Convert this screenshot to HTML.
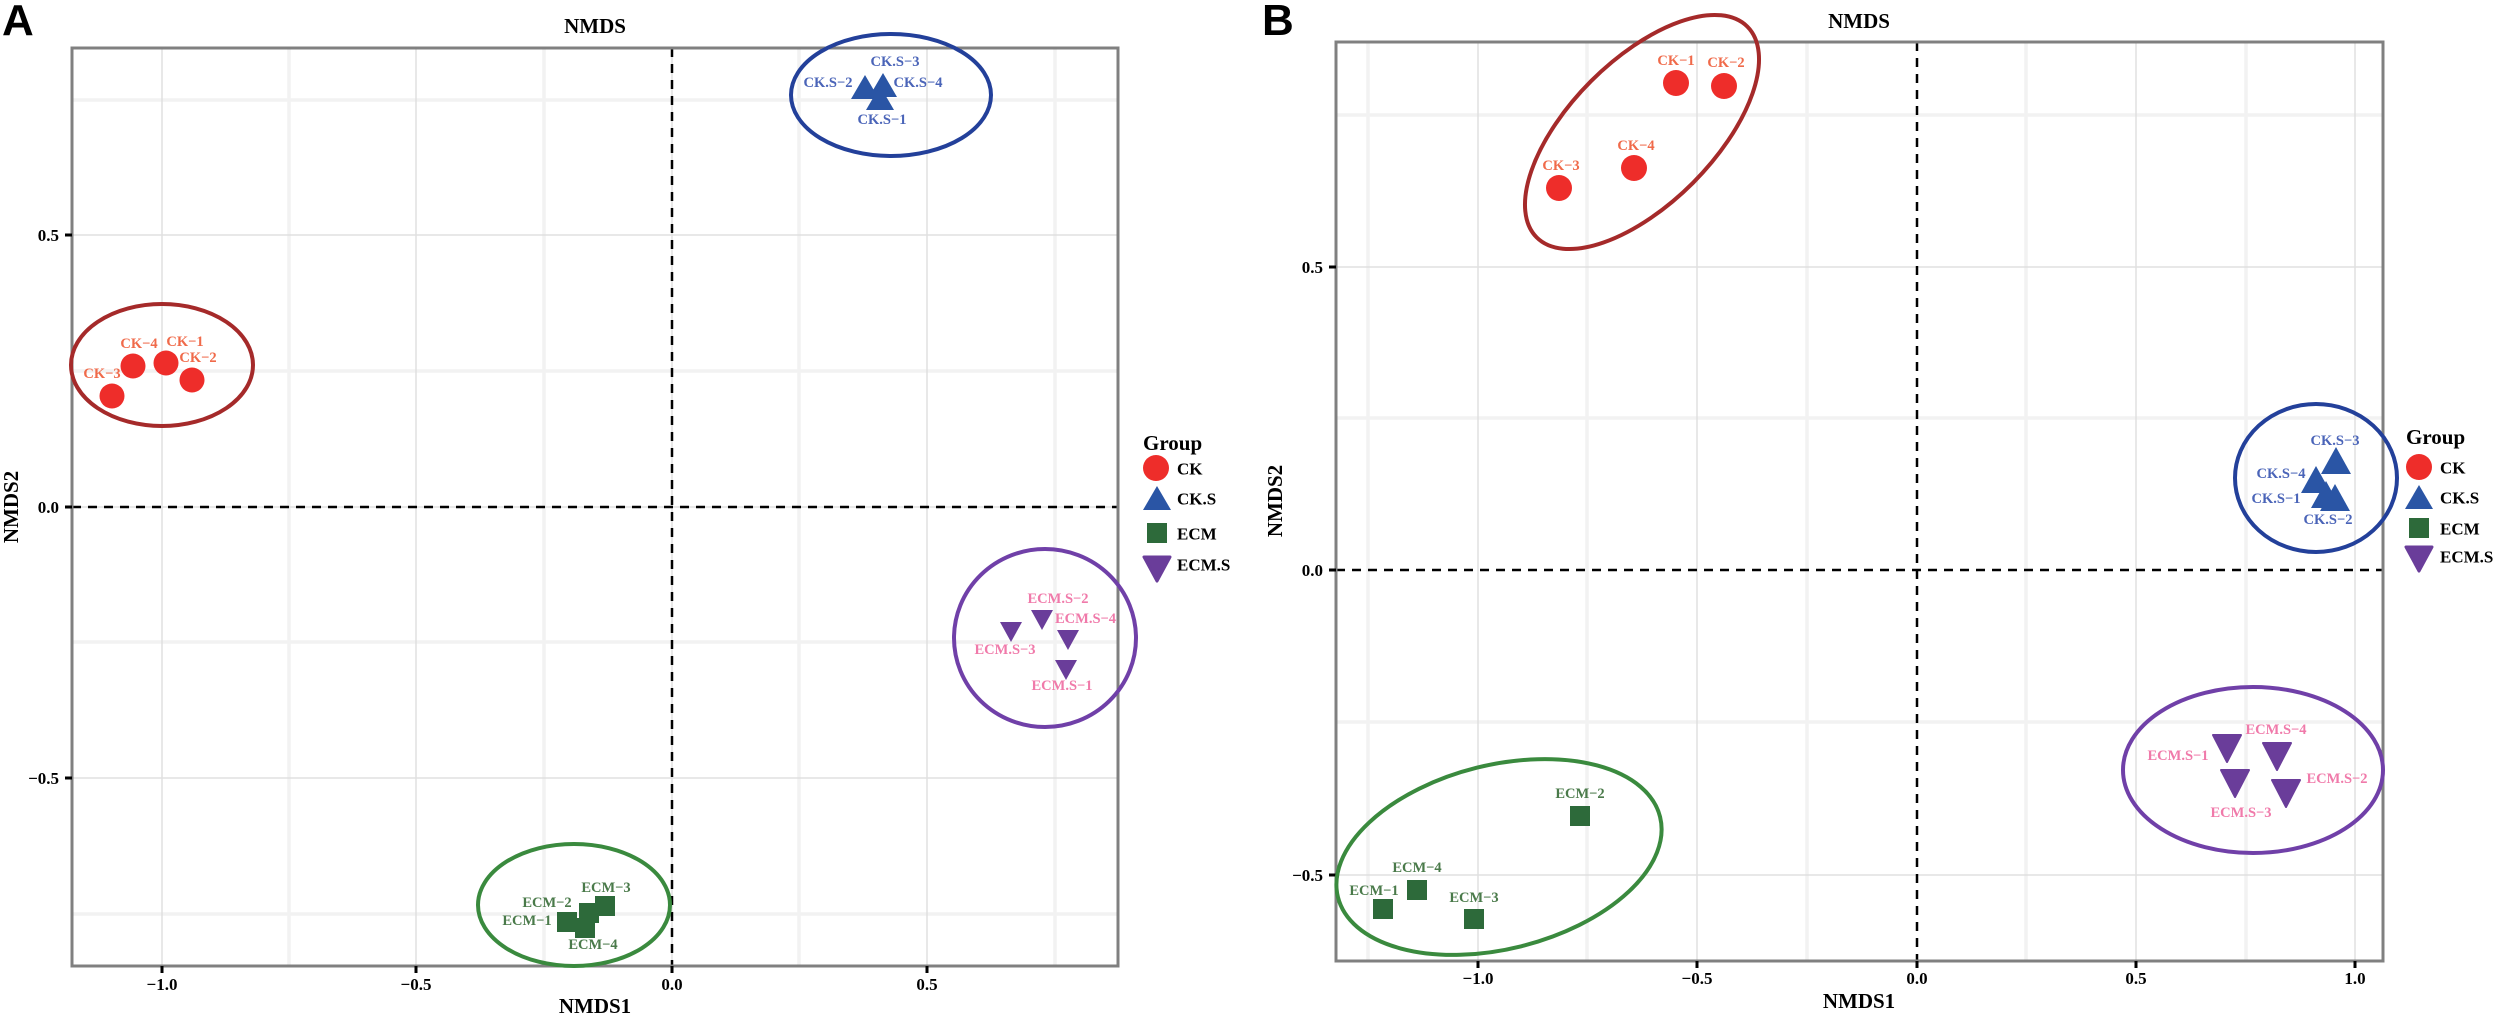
<!DOCTYPE html>
<html><head><meta charset="utf-8"><style>
html,body{margin:0;padding:0;background:#fff;}
svg{display:block;}
text{font-family:"Liberation Serif",serif;font-weight:bold;}
.l{font-size:14.5px;text-anchor:middle;dominant-baseline:central;}
.t{font-size:17px;fill:#000;}
.ax{font-size:21px;fill:#000;text-anchor:middle;}
.lg{font-size:17px;fill:#000;dominant-baseline:central;}
.mj{stroke:#e0e0e0;stroke-width:1.5;}
.mn{stroke:#f2f2f2;stroke-width:3.5;}
.z{stroke:#000;stroke-width:2.5;stroke-dasharray:9 7;}
.fr{fill:none;stroke:#808080;stroke-width:3;}
</style></head><body>
<svg width="2500" height="1017" viewBox="0 0 2500 1017" xmlns="http://www.w3.org/2000/svg">
<rect width="2500" height="1017" fill="#fff"/>

<!-- PANEL A -->
<text x="2" y="35" style="font-family:'Liberation Sans',sans-serif;font-size:44px;font-weight:bold">A</text>
<text x="595" y="33" class="ax">NMDS</text>
<rect x="72" y="48" width="1046" height="918" fill="#fff"/>
<g>
<line class="mn" x1="72" x2="1118" y1="100" y2="100"/>
<line class="mn" x1="72" x2="1118" y1="371" y2="371"/>
<line class="mn" x1="72" x2="1118" y1="642" y2="642"/>
<line class="mn" x1="72" x2="1118" y1="914" y2="914"/>
<line class="mn" y1="48" y2="966" x1="289" x2="289"/>
<line class="mn" y1="48" y2="966" x1="544" x2="544"/>
<line class="mn" y1="48" y2="966" x1="799" x2="799"/>
<line class="mn" y1="48" y2="966" x1="1055" x2="1055"/>
<line class="mj" x1="72" x2="1118" y1="235" y2="235"/>
<line class="mj" x1="72" x2="1118" y1="507" y2="507"/>
<line class="mj" x1="72" x2="1118" y1="778" y2="778"/>
<line class="mj" y1="48" y2="966" x1="162" x2="162"/>
<line class="mj" y1="48" y2="966" x1="416" x2="416"/>
<line class="mj" y1="48" y2="966" x1="672" x2="672"/>
<line class="mj" y1="48" y2="966" x1="927" x2="927"/>
<line class="z" x1="72" x2="1118" y1="507" y2="507"/>
<line class="z" y1="48" y2="966" x1="672" x2="672"/>
</g>
<rect class="fr" x="72" y="48" width="1046" height="918"/>
<g stroke="#000" stroke-width="3">
<line x1="65" x2="72" y1="235" y2="235"/><line x1="65" x2="72" y1="507" y2="507"/><line x1="65" x2="72" y1="778" y2="778"/>
<line y1="966" y2="973" x1="162" x2="162"/><line y1="966" y2="973" x1="416" x2="416"/><line y1="966" y2="973" x1="672" x2="672"/><line y1="966" y2="973" x1="927" x2="927"/>
</g>
<g class="t" text-anchor="end">
<text x="59" y="241">0.5</text><text x="59" y="513">0.0</text><text x="59" y="784">−0.5</text>
</g>
<g class="t" text-anchor="middle">
<text x="162" y="990">−1.0</text><text x="416" y="990">−0.5</text><text x="672" y="990">0.0</text><text x="927" y="990">0.5</text>
</g>
<text x="595" y="1013" class="ax">NMDS1</text>
<text transform="translate(18,507) rotate(-90)" class="ax">NMDS2</text>

<ellipse cx="162" cy="365" rx="91" ry="61" fill="none" stroke="#a52a2a" stroke-width="4"/>
<ellipse cx="891" cy="95" rx="100" ry="61" fill="none" stroke="#23409a" stroke-width="4"/>
<ellipse cx="1045" cy="638" rx="91" ry="89" fill="none" stroke="#7040a8" stroke-width="4"/>
<ellipse cx="574" cy="905" rx="96" ry="61" fill="none" stroke="#3a8a3e" stroke-width="4"/>
<g fill="#ee2d2a">
<circle cx="112" cy="396" r="12.5"/><circle cx="133" cy="366" r="12.5"/><circle cx="166" cy="363" r="12.5"/><circle cx="192" cy="380" r="12.5"/>
</g>
<g fill="#f06a4a" class="l">
<text x="139" y="344">CK−4</text><text x="185" y="342">CK−1</text><text x="198" y="358">CK−2</text><text x="102" y="374">CK−3</text>
</g>
<g fill="#2a55a5">
<polygon points="865,75 851,99 879,99"/><polygon points="883,73 869,97 897,97"/><polygon points="880,86 866,110 894,110"/>
</g>
<g fill="#4a64b8" class="l">
<text x="895" y="62">CK.S−3</text><text x="828" y="83">CK.S−2</text><text x="918" y="83">CK.S−4</text><text x="882" y="120">CK.S−1</text>
</g>
<g fill="#6a3d9a">
<polygon points="1000,622 1022,622 1011,642"/><polygon points="1031,610 1053,610 1042,630"/><polygon points="1057,630 1079,630 1068,650"/><polygon points="1055,660 1077,660 1066,680"/>
</g>
<g fill="#f07aaa" class="l">
<text x="1058" y="599">ECM.S−2</text><text x="1005" y="650">ECM.S−3</text><text x="1062" y="686">ECM.S−1</text>
</g>
<svg x="0" y="0" width="1118" height="1017" overflow="hidden"><text x="1055" y="619" fill="#f07aaa" style="font-size:14.5px;dominant-baseline:central">ECM.S−4</text></svg>
<g fill="#2d6a3a">
<rect x="557" y="912" width="20" height="20"/><rect x="575" y="918" width="20" height="20"/><rect x="579" y="903" width="20" height="20"/><rect x="595" y="896" width="20" height="20"/>
</g>
<g fill="#4a7a4a" class="l">
<text x="606" y="888">ECM−3</text><text x="547" y="903">ECM−2</text><text x="527" y="921">ECM−1</text><text x="593" y="945">ECM−4</text>
</g>
<text x="1143" y="450" style="font-size:21px">Group</text>
<circle cx="1156" cy="468" r="13" fill="#ee2d2a"/>
<polygon points="1157,486 1143,510 1171,510" fill="#2a55a5"/>
<rect x="1147" y="523" width="20" height="20" fill="#2d6a3a"/>
<polygon points="1144,557 1170,557 1157,581" fill="#6a3d9a" stroke="#6a3d9a" stroke-width="3" stroke-linejoin="round"/>
<g class="lg"><text x="1177" y="469">CK</text><text x="1177" y="499">CK.S</text><text x="1177" y="534">ECM</text><text x="1177" y="565">ECM.S</text></g>

<!-- PANEL B -->
<text x="1262" y="35" style="font-family:'Liberation Sans',sans-serif;font-size:44px;font-weight:bold">B</text>
<text x="1859" y="28" class="ax">NMDS</text>
<g>
<line class="mn" x1="1336" x2="2383" y1="115" y2="115"/>
<line class="mn" x1="1336" x2="2383" y1="418" y2="418"/>
<line class="mn" x1="1336" x2="2383" y1="722" y2="722"/>
<line class="mn" y1="42" y2="961" x1="1368" x2="1368"/>
<line class="mn" y1="42" y2="961" x1="1587" x2="1587"/>
<line class="mn" y1="42" y2="961" x1="1807" x2="1807"/>
<line class="mn" y1="42" y2="961" x1="2026" x2="2026"/>
<line class="mn" y1="42" y2="961" x1="2246" x2="2246"/>
<line class="mj" x1="1336" x2="2383" y1="267" y2="267"/>
<line class="mj" x1="1336" x2="2383" y1="875" y2="875"/>
<line class="mj" y1="42" y2="961" x1="1478" x2="1478"/>
<line class="mj" y1="42" y2="961" x1="1697" x2="1697"/>
<line class="mj" y1="42" y2="961" x1="2136" x2="2136"/>
<line class="mj" y1="42" y2="961" x1="2355" x2="2355"/>
<line class="z" x1="1336" x2="2383" y1="570" y2="570"/>
<line class="z" y1="42" y2="961" x1="1917" x2="1917"/>
</g>
<rect class="fr" x="1336" y="42" width="1047" height="919"/>
<g stroke="#000" stroke-width="3">
<line x1="1329" x2="1336" y1="267" y2="267"/><line x1="1329" x2="1336" y1="570" y2="570"/><line x1="1329" x2="1336" y1="875" y2="875"/>
<line y1="961" y2="968" x1="1478" x2="1478"/><line y1="961" y2="968" x1="1697" x2="1697"/><line y1="961" y2="968" x1="1917" x2="1917"/><line y1="961" y2="968" x1="2136" x2="2136"/><line y1="961" y2="968" x1="2355" x2="2355"/>
</g>
<g class="t" text-anchor="end">
<text x="1323" y="273">0.5</text><text x="1323" y="576">0.0</text><text x="1323" y="881">−0.5</text>
</g>
<g class="t" text-anchor="middle">
<text x="1478" y="984">−1.0</text><text x="1697" y="984">−0.5</text><text x="1917" y="984">0.0</text><text x="2136" y="984">0.5</text><text x="2355" y="984">1.0</text>
</g>
<text x="1859" y="1008" class="ax">NMDS1</text>
<text transform="translate(1282,501) rotate(-90)" class="ax">NMDS2</text>

<ellipse cx="1642" cy="132" rx="149" ry="72" transform="rotate(-45 1642 132)" fill="none" stroke="#a52a2a" stroke-width="4"/>
<ellipse cx="2316" cy="478" rx="81" ry="74" fill="none" stroke="#23409a" stroke-width="4"/>
<ellipse cx="2253" cy="770" rx="130" ry="83" fill="none" stroke="#7040a8" stroke-width="4"/>
<ellipse cx="1499" cy="857" rx="166" ry="92" transform="rotate(-14 1499 857)" fill="none" stroke="#3a8a3e" stroke-width="4"/>
<g fill="#ee2d2a">
<circle cx="1559" cy="188" r="13"/><circle cx="1634" cy="168" r="13"/><circle cx="1676" cy="83" r="13"/><circle cx="1724" cy="86" r="13"/>
</g>
<g fill="#f06a4a" class="l">
<text x="1676" y="61">CK−1</text><text x="1726" y="63">CK−2</text><text x="1636" y="146">CK−4</text><text x="1561" y="166">CK−3</text>
</g>
<g fill="#2a55a5">
<polygon points="2336,447 2321,474 2351,474"/><polygon points="2316,466 2301,493 2331,493"/><polygon points="2326,481 2311,508 2341,508"/><polygon points="2335,484 2320,511 2350,511"/>
</g>
<g fill="#4a64b8" class="l">
<text x="2335" y="441">CK.S−3</text><text x="2281" y="474">CK.S−4</text><text x="2276" y="499">CK.S−1</text><text x="2328" y="520">CK.S−2</text>
</g>
<g fill="#6a3d9a" stroke="#6a3d9a" stroke-width="2" stroke-linejoin="round">
<polygon points="2213,735 2241,735 2227,762"/><polygon points="2263,743 2291,743 2277,770"/><polygon points="2221,770 2249,770 2235,797"/><polygon points="2272,780 2300,780 2286,807"/>
</g>
<g fill="#f07aaa" class="l">
<text x="2276" y="730">ECM.S−4</text><text x="2178" y="756">ECM.S−1</text><text x="2337" y="779">ECM.S−2</text><text x="2241" y="813">ECM.S−3</text>
</g>
<g fill="#2d6a3a">
<rect x="1570" y="806" width="20" height="20"/><rect x="1407" y="880" width="20" height="20"/><rect x="1373" y="899" width="20" height="20"/><rect x="1464" y="909" width="20" height="20"/>
</g>
<g fill="#4a7a4a" class="l">
<text x="1580" y="794">ECM−2</text><text x="1417" y="868">ECM−4</text><text x="1374" y="891">ECM−1</text><text x="1474" y="898">ECM−3</text>
</g>
<text x="2406" y="444" style="font-size:21px">Group</text>
<circle cx="2419" cy="467" r="13" fill="#ee2d2a"/>
<polygon points="2419,485 2405,509 2433,509" fill="#2a55a5"/>
<rect x="2409" y="518" width="20" height="20" fill="#2d6a3a"/>
<polygon points="2406,547 2432,547 2419,571" fill="#6a3d9a" stroke="#6a3d9a" stroke-width="3" stroke-linejoin="round"/>
<g class="lg"><text x="2440" y="468">CK</text><text x="2440" y="498">CK.S</text><text x="2440" y="529">ECM</text><text x="2440" y="557">ECM.S</text></g>
</svg>
</body></html>
